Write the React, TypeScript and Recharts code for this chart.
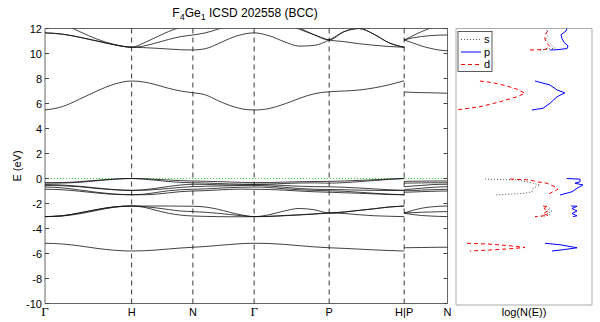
import { LineChart, Line, XAxis, YAxis, ReferenceLine, ReferenceArea } from "recharts";

// k-path positions (BCC: Γ-H-N-Γ-P-H | P-N)
const kMain = [
  0, 0.2, 0.4, 0.6, 0.8, 1, 1.1414, 1.2828, 1.4243, 1.5657, 1.7071, 1.8485, 1.9899, 2.1314, 2.2728,
  2.4142, 2.5874, 2.7606, 2.9338, 3.107, 3.2802, 3.4534, 3.6266, 3.7998, 3.9731, 4.1463,
];
const kPN = [4.1463, 4.2463, 4.3463, 4.4463, 4.5463, 4.6463];
const symK = [0, 1, 1.7071, 2.4142, 3.2802, 4.1463, 4.6463];
const symLabels = ["Γ", "H", "N", "Γ", "P", "H|P", "N"];
const energyTicks = [-10, -8, -6, -4, -2, 0, 2, 4, 6, 8, 10, 12];

// band energies (eV) along Γ-H-N-Γ-P-H
const bandsMain: number[][] = [
  [-5.18, -5.24, -5.39, -5.59, -5.74, -5.8, -5.78, -5.72, -5.64, -5.56, -5.5, -5.44, -5.36, -5.28, -5.21, -5.18, -5.2, -5.27, -5.37, -5.47, -5.54, -5.59, -5.65, -5.71, -5.76, -5.8],
  [-3.05, -2.98, -2.75, -2.48, -2.27, -2.2, -2.2, -2.2, -2.2, -2.21, -2.22, -2.28, -2.45, -2.7, -2.92, -3.05, -2.9, -2.6, -2.4, -2.5, -2.76, -2.68, -2.55, -2.42, -2.28, -2.2],
  [-3.05, -3.0, -2.82, -2.55, -2.3, -2.2, -2.25, -2.35, -2.48, -2.6, -2.65, -2.7, -2.78, -2.88, -2.98, -3.05, -3.02, -2.96, -2.9, -2.83, -2.76, -2.8, -2.9, -2.98, -3.02, -3.05],
  [-3.05, -2.98, -2.75, -2.48, -2.27, -2.2, -2.3, -2.55, -2.78, -2.93, -3.0, -3.03, -3.05, -3.06, -3.06, -3.05, -3.04, -2.98, -2.92, -2.85, -2.76, -2.68, -2.55, -2.42, -2.28, -2.2],
  [-0.35, -0.33, -0.25, -0.14, -0.04, 0.0, -0.02, -0.07, -0.12, -0.17, -0.2, -0.22, -0.25, -0.28, -0.31, -0.33, -0.32, -0.29, -0.26, -0.24, -0.23, -0.2, -0.15, -0.1, -0.04, 0.0],
  [-0.35, -0.36, -0.3, -0.18, -0.06, 0.0, -0.05, -0.14, -0.24, -0.31, -0.34, -0.36, -0.4, -0.43, -0.45, -0.45, -0.44, -0.4, -0.36, -0.35, -0.37, -0.33, -0.25, -0.16, -0.07, 0.0],
  [-0.48, -0.52, -0.62, -0.76, -0.89, -0.95, -0.9, -0.78, -0.64, -0.52, -0.46, -0.47, -0.5, -0.52, -0.5, -0.48, -0.5, -0.56, -0.62, -0.65, -0.66, -0.7, -0.76, -0.83, -0.9, -0.95],
  [-0.55, -0.58, -0.66, -0.8, -0.9, -0.95, -0.94, -0.88, -0.8, -0.71, -0.65, -0.62, -0.6, -0.58, -0.56, -0.55, -0.6, -0.7, -0.8, -0.86, -0.88, -0.9, -0.93, -0.95, -0.96, -0.95],
  [-0.68, -0.75, -0.92, -1.1, -1.24, -1.3, -1.25, -1.12, -0.98, -0.9, -0.86, -0.83, -0.78, -0.73, -0.7, -0.68, -0.72, -0.82, -0.9, -0.95, -0.98, -1.02, -1.1, -1.18, -1.25, -1.3],
  [-0.86, -0.9, -1.02, -1.16, -1.27, -1.3, -1.3, -1.25, -1.15, -1.05, -1.0, -0.97, -0.92, -0.87, -0.85, -0.86, -0.88, -0.93, -1.0, -1.06, -1.1, -1.14, -1.18, -1.23, -1.28, -1.3],
  [5.48, 5.75, 6.35, 7.0, 7.55, 7.8, 7.72, 7.5, 7.22, 7.0, 6.86, 6.7, 6.25, 5.85, 5.57, 5.48, 5.6, 5.95, 6.4, 6.78, 6.94, 7.0, 7.08, 7.25, 7.5, 7.82],
  [11.65, 11.55, 11.3, 11.0, 10.7, 10.5, 10.47, 10.42, 10.36, 10.3, 10.28, 10.38, 10.75, 11.2, 11.52, 11.65, 11.42, 10.95, 10.59, 10.65, 11.08, 11.75, 12.0, 11.53, 10.85, 10.5],
  [11.65, 11.55, 11.3, 11.0, 10.7, 10.5, 10.6, 10.85, 11.12, 11.35, 11.48, 11.65, 11.93, 12.25, 12.5, 12.6, 12.55, 12.35, 11.95, 11.5, 11.08, 10.95, 10.78, 10.66, 10.56, 10.5],
  [12.8, 12.4, 11.75, 11.15, 10.72, 10.5, 10.85, 11.3, 11.75, 12.1, 12.3, 12.45, 12.6, 12.75, 12.85, 12.9, 12.85, 12.6, 12.05, 11.5, 11.08, 11.75, 12.0, 11.53, 10.85, 10.5],
];

// band energies (eV) along P-N
const bandsPN: number[][] = [
  [-5.54, -5.53, -5.52, -5.51, -5.5, -5.5],
  [-2.76, -2.55, -2.38, -2.28, -2.22, -2.2],
  [-2.76, -2.73, -2.7, -2.68, -2.66, -2.65],
  [-2.78, -2.88, -2.96, -3.0, -3.03, -3.05],
  [-0.23, -0.22, -0.21, -0.2, -0.2, -0.2],
  [-0.37, -0.36, -0.35, -0.34, -0.34, -0.34],
  [-0.66, -0.6, -0.55, -0.5, -0.47, -0.46],
  [-0.88, -0.84, -0.78, -0.72, -0.68, -0.65],
  [-0.98, -0.96, -0.93, -0.9, -0.88, -0.86],
  [-1.1, -1.08, -1.05, -1.03, -1.01, -1.0],
  [6.92, 6.89, 6.87, 6.86, 6.84, 6.82],
  [11.08, 10.85, 10.6, 10.42, 10.28, 10.22],
  [11.08, 11.25, 11.36, 11.43, 11.47, 11.48],
  [11.08, 11.42, 11.75, 12.02, 12.25, 12.35],
];

// projected DOS pieces: [energy, log N (relative)]
const dosS: number[][][] = [
  [[10.28, 0.618], [10.42, 0.728], [10.54, 0.713], [10.82, 0.691], [11.08, 0.654], [11.34, 0.676], [11.64, 0.662], [11.88, 0.669], [12.0, 0.662]],
  [[-0.04, 0.213], [-0.12, 0.456], [-0.26, 0.522], [-0.52, 0.618], [-0.78, 0.566], [-1.06, 0.559], [-1.18, 0.507], [-1.32, 0.287]],
  [[-2.35, 0.691], [-2.46, 0.676], [-2.62, 0.706], [-2.78, 0.669], [-2.92, 0.691], [-3.05, 0.618]],
];
const dosP: number[][][] = [
  [[12.0, 0.816], [11.8, 0.809], [11.5, 0.772], [11.2, 0.779], [10.9, 0.794], [10.6, 0.824], [10.4, 0.816], [10.3, 0.743], [10.28, 0.691]],
  [[7.8, 0.581], [7.48, 0.691], [7.08, 0.743], [6.86, 0.801], [6.54, 0.743], [6.02, 0.691], [5.62, 0.64], [5.48, 0.559]],
  [[0, 0.814], [-0.05, 0.912], [-0.26, 0.912], [-0.38, 0.875], [-0.52, 0.934], [-0.78, 0.89], [-1.06, 0.853], [-1.32, 0.765]],
  [[-2.2, 0.846], [-2.22, 0.89], [-2.4, 0.853], [-2.6, 0.89], [-2.8, 0.853], [-2.98, 0.89], [-3.05, 0.86]],
  [[-5.18, 0.654], [-5.3, 0.765], [-5.54, 0.89], [-5.68, 0.801], [-5.8, 0.706]],
];
const dosD: number[][][] = [
  [[10.28, 0.544], [10.32, 0.654], [10.55, 0.691], [10.9, 0.662], [11.2, 0.654], [11.5, 0.654], [11.8, 0.676], [12.0, 0.669]],
  [[7.8, 0.176], [7.66, 0.272], [7.4, 0.375], [7.14, 0.449], [6.82, 0.507], [6.54, 0.449], [6.14, 0.324], [5.74, 0.176], [5.48, 0]],
  [[-0.04, 0.397], [-0.12, 0.544], [-0.26, 0.596], [-0.38, 0.669], [-0.66, 0.728], [-0.86, 0.75], [-1.06, 0.713], [-1.32, 0.669]],
  [[-2.2, 0.64], [-2.25, 0.676], [-2.4, 0.647], [-2.6, 0.676], [-2.8, 0.64], [-2.95, 0.676], [-3.05, 0.581]],
  [[-5.18, 0.081], [-5.25, 0.25], [-5.38, 0.397], [-5.52, 0.507], [-5.62, 0.397], [-5.72, 0.25], [-5.8, 0.103]],
];

const FONT = "'Liberation Sans', Arial, Helvetica, sans-serif";

const toRows = (ks: number[], bands: number[][]) =>
  ks.map((k, i) => {
    const row: Record<string, number> = { k };
    bands.forEach((b, j) => (row["b" + j] = b[i]));
    return row;
  });

const mainRows = toRows(kMain, bandsMain);
const pnRows = toRows(kPN, bandsPN);

const dosRows = (piece: number[][]) => piece.map(([e, v]) => ({ e, v }));

const LeftTick = (p: any) => (
  <g>
    <line x1={p.x} x2={p.x + 4} y1={p.y} y2={p.y} stroke="#444" />
    <text x={p.x - 3} y={p.y + 4} textAnchor="end" fontSize={11} fontFamily={FONT} fill="#000">
      {p.payload.value}
    </text>
  </g>
);

const RightTick = (p: any) => (
  <line x1={p.x - 4} x2={p.x} y1={p.y} y2={p.y} stroke="#444" />
);

const BottomTick = (p: any) => {
  const label = symLabels[p.index];
  const serif = label === "Γ";
  return (
    <text
      x={p.x}
      y={p.y + 12}
      textAnchor="middle"
      fontSize={serif ? 13 : 11}
      fontFamily={serif ? "'Liberation Serif', 'DejaVu Serif', serif" : FONT}
      fill="#000"
    >
      {label}
    </text>
  );
};

function BandChart() {
  return (
    <LineChart
      width={600}
      height={322}
      margin={{ top: 28.5, right: 142.5, bottom: 0, left: 5 }}
      style={{ position: "absolute", left: 0, top: 0 }}
    >
      <XAxis
        dataKey="k"
        type="number"
        domain={[0, 4.6463]}
        ticks={symK}
        interval={0}
        height={18.5}
        tickSize={0}
        tickMargin={0}
        axisLine={false}
        tickLine={false}
        tick={BottomTick}
      />
      <YAxis
        type="number"
        domain={[-10, 12]}
        ticks={energyTicks}
        allowDataOverflow
        width={40}
        tickSize={0}
        tickMargin={0}
        axisLine={false}
        tickLine={false}
        tick={LeftTick}
      />
      <YAxis
        yAxisId="right"
        orientation="right"
        type="number"
        domain={[-10, 12]}
        ticks={energyTicks}
        allowDataOverflow
        width={10}
        tickSize={0}
        tickMargin={0}
        axisLine={false}
        tickLine={false}
        tick={RightTick}
      />
      <ReferenceArea x1={0} x2={4.6463} y1={-10} y2={12} fill="none" stroke="#666" strokeWidth={1} />
      {symK.slice(1, 6).map((k) => (
        <ReferenceLine key={"v" + k} x={k} stroke="#222" strokeDasharray="5 4" strokeWidth={0.9} />
      ))}
      <ReferenceLine y={0} stroke="#33dd33" strokeDasharray="1 2" strokeWidth={1} />
      {bandsMain.map((_, j) => (
        <Line
          key={"m" + j}
          data={mainRows}
          dataKey={"b" + j}
          type="monotone"
          stroke="#111"
          strokeWidth={0.8}
          dot={false}
          activeDot={false}
          isAnimationActive={false}
        />
      ))}
      {bandsPN.map((_, j) => (
        <Line
          key={"pn" + j}
          data={pnRows}
          dataKey={"b" + j}
          type="monotone"
          stroke="#111"
          strokeWidth={0.8}
          dot={false}
          activeDot={false}
          isAnimationActive={false}
        />
      ))}
      <text x={245} y={17} textAnchor="middle" fontSize={12} fontFamily={FONT} fill="#000">
        F<tspan fontSize={9} dy={3}>4</tspan>
        <tspan dy={-3}>Ge</tspan>
        <tspan fontSize={9} dy={3}>1</tspan>
        <tspan dy={-3}> ICSD 202558 (BCC)</tspan>
      </text>
      <text
        x={0}
        y={0}
        transform="translate(21,166) rotate(-90)"
        textAnchor="middle"
        fontSize={11}
        fontFamily={FONT}
        fill="#000"
      >
        E (eV)
      </text>
    </LineChart>
  );
}

const dosSeries = [
  { name: "s", pieces: dosS, color: "#555", dash: "1 2" },
  { name: "p", pieces: dosP, color: "#0000ff", dash: undefined },
  { name: "d", pieces: dosD, color: "#ff0000", dash: "4 3" },
];

function DosChart() {
  return (
    <LineChart
      width={160}
      height={322}
      margin={{ top: 28.5, right: 8, bottom: 17, left: 16 }}
      style={{ position: "absolute", left: 440, top: 0 }}
    >
      <XAxis dataKey="v" type="number" domain={[0, 1]} hide />
      <YAxis type="number" domain={[-10.12, 12]} allowDataOverflow hide />
      <ReferenceArea x1={0} x2={1} y1={-10.12} y2={12} fill="none" stroke="#aaa" strokeWidth={1} />
      {dosSeries.map((s) =>
        s.pieces.map((piece, i) => (
          <Line
            key={s.name + i}
            data={dosRows(piece)}
            dataKey="e"
            type="linear"
            stroke={s.color}
            strokeWidth={1}
            strokeDasharray={s.dash}
            dot={false}
            activeDot={false}
            isAnimationActive={false}
          />
        ))
      )}
      <g>
        <rect x={18} y={31.5} width={34} height={40} fill="#fff" stroke="#333" strokeWidth={0.8} />
        {dosSeries.map((s, i) => (
          <g key={"lg" + s.name}>
            <line
              x1={21}
              x2={41}
              y1={39.5 + i * 12.5}
              y2={39.5 + i * 12.5}
              stroke={s.color}
              strokeWidth={1}
              strokeDasharray={s.dash}
            />
            <text x={44} y={43 + i * 12.5} fontSize={11} fontFamily={FONT} fill="#000">
              {s.name}
            </text>
          </g>
        ))}
      </g>
      <text x={84} y={316} textAnchor="middle" fontSize={11} fontFamily={FONT} fill="#000">
        log(N(E))
      </text>
    </LineChart>
  );
}

export default function App() {
  return (
    <div style={{ position: "absolute", left: 0, top: 0, width: 600, height: 322, background: "#fff" }}>
      <BandChart />
      <DosChart />
    </div>
  );
}
